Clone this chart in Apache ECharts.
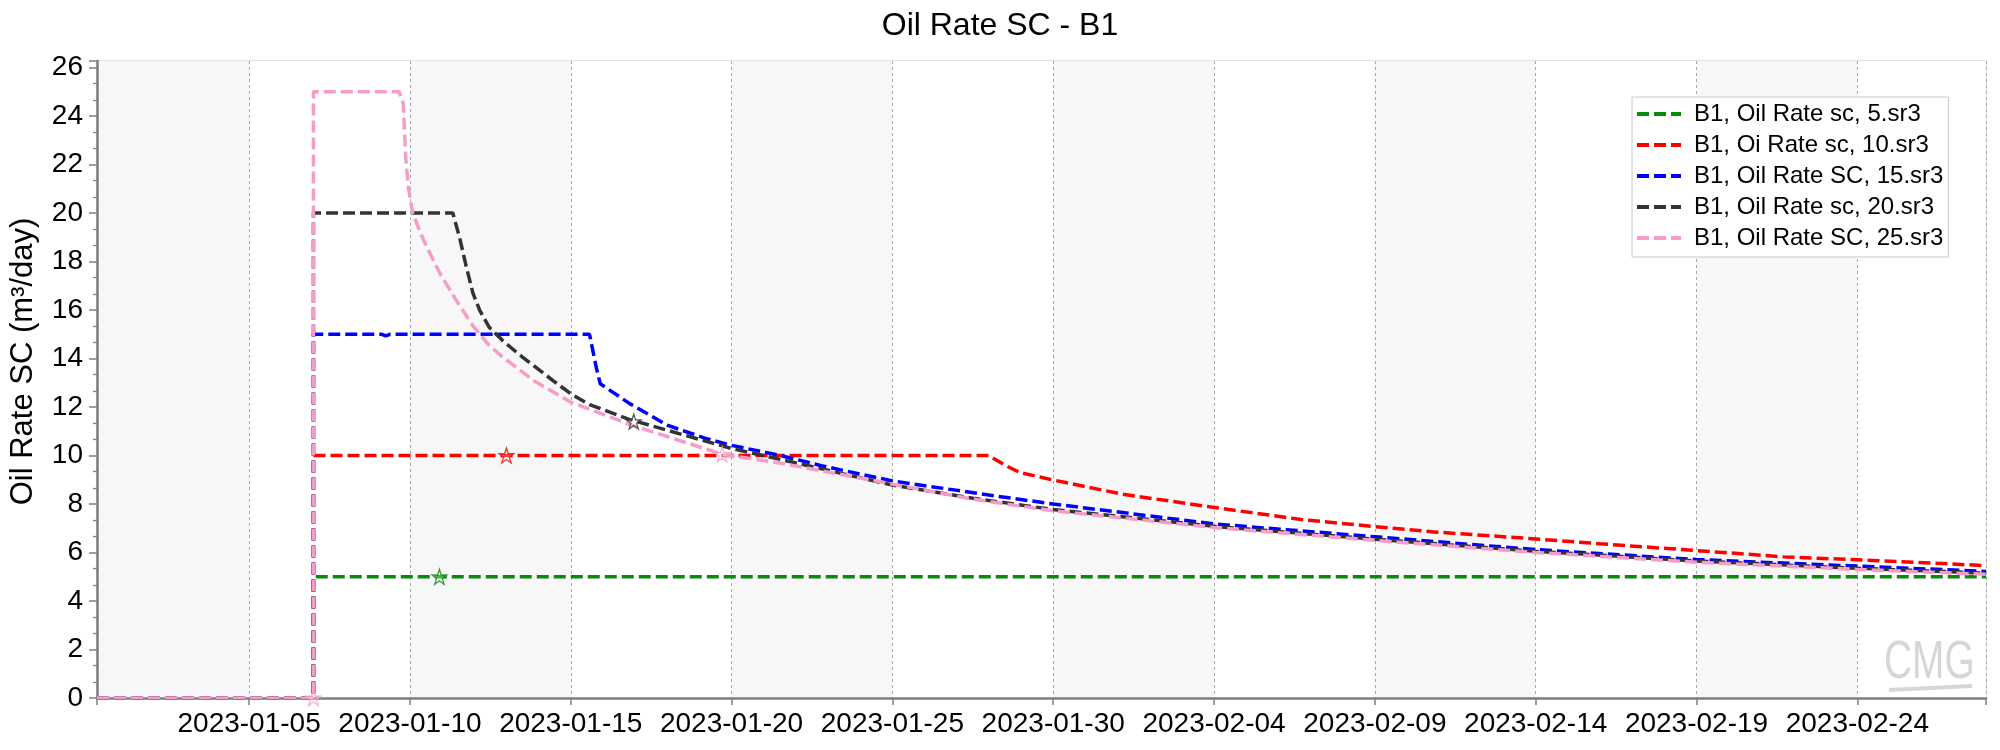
<!DOCTYPE html>
<html>
<head>
<meta charset="utf-8">
<script src="https://cdn.jsdelivr.net/npm/echarts@6/dist/echarts.min.js"></script>
<style>
html,body{margin:0;padding:0;background:#ffffff;}
#chart{width:2000px;height:750px;}
</style>
</head>
<body>
<div id="chart"></div>
<script>
// ---------------- DATA ----------------
const xTickLabels = ['2023-01-05','2023-01-10','2023-01-15','2023-01-20','2023-01-25','2023-01-30',
                     '2023-02-04','2023-02-09','2023-02-14','2023-02-19','2023-02-24'];
const xAxisStart = '2022-12-31 06:30';
const xAxisEnd = '2023-02-28 00:00';

const seriesNames = ['B1, Oil Rate sc, 5.sr3','B1, Oi Rate sc, 10.sr3','B1, Oil Rate SC, 15.sr3',
                     'B1, Oil Rate sc, 20.sr3','B1, Oil Rate SC, 25.sr3'];

const rate5Dates  = ['2022-12-31 06:30','2023-01-07 00:00','2023-01-07 00:00','2023-02-28 00:00'];
const rate5Values = [0, 0, 5, 5];

const rate10Dates  = ['2022-12-31 06:30','2023-01-07 00:00','2023-01-07 00:00','2023-01-28 00:00','2023-01-28 12:00',
                      '2023-01-28 23:00','2023-01-30 00:00','2023-02-01 04:00','2023-02-04 00:00','2023-02-06 17:00',
                      '2023-02-09 00:00','2023-02-10 22:00','2023-02-14 00:00','2023-02-16 00:00','2023-02-19 00:00',
                      '2023-02-21 17:00','2023-02-24 00:00','2023-02-28 00:00'];
const rate10Values = [0, 0, 10, 10, 9.6, 9.3, 8.99, 8.4, 7.86, 7.36, 7.07, 6.84, 6.56, 6.36, 6.08, 5.82, 5.7, 5.46];

const rate15Dates  = ['2022-12-31 06:30','2023-01-07 00:00','2023-01-07 00:00','2023-01-09 03:00','2023-01-09 06:00',
                      '2023-01-09 09:00','2023-01-15 14:00','2023-01-15 19:00','2023-01-15 22:00','2023-01-16 20:00',
                      '2023-01-18 00:00','2023-01-19 05:00','2023-01-20 00:00','2023-01-21 14:00','2023-01-22 19:00',
                      '2023-01-25 00:00','2023-01-28 00:00','2023-01-30 00:00','2023-02-04 00:00','2023-02-09 00:00',
                      '2023-02-14 00:00','2023-02-19 00:00','2023-02-24 00:00','2023-02-28 00:00'];
const rate15Values = [0, 0, 15, 15, 14.93, 15, 15, 13.64, 12.96, 12.14, 11.25, 10.7, 10.42, 9.98, 9.58,
                      8.95, 8.37, 8.0, 7.18, 6.65, 6.12, 5.71, 5.44, 5.22];

const rate20Dates  = ['2022-12-31 06:30','2023-01-07 00:00','2023-01-07 00:00','2023-01-11 08:00','2023-01-11 13:00',
                      '2023-01-11 18:00','2023-01-11 23:00','2023-01-12 04:00','2023-01-12 11:00','2023-01-12 21:00',
                      '2023-01-13 06:00','2023-01-13 12:00','2023-01-14 11:00','2023-01-15 00:00','2023-01-15 14:00',
                      '2023-01-16 19:00','2023-01-18 00:00','2023-01-20 00:00','2023-01-21 14:00','2023-01-25 00:00',
                      '2023-01-27 12:00','2023-01-30 00:00','2023-02-04 00:00','2023-02-09 00:00','2023-02-14 00:00',
                      '2023-02-19 00:00','2023-02-24 00:00','2023-02-28 00:00'];
const rate20Values = [0, 0, 20, 20, 19.0, 17.8, 16.7, 16.0, 15.3, 14.75, 14.33, 14.06, 13.08, 12.55, 12.1,
                      11.5, 11.04, 10.29, 9.82, 8.78, 8.24, 7.77, 7.08, 6.55, 6.05, 5.65, 5.35, 5.15];

const rate25Dates  = ['2022-12-31 06:30','2023-01-07 00:00','2023-01-07 00:00','2023-01-09 16:00','2023-01-09 19:00',
                      '2023-01-09 21:00','2023-01-09 23:00','2023-01-10 02:00','2023-01-10 10:00','2023-01-10 22:00',
                      '2023-01-11 10:00','2023-01-11 23:00','2023-01-12 11:00','2023-01-12 21:00','2023-01-13 20:00',
                      '2023-01-15 00:00','2023-01-16 19:00','2023-01-19 17:00','2023-01-21 14:00','2023-01-25 00:00',
                      '2023-01-27 12:00','2023-01-30 00:00','2023-02-04 00:00','2023-02-09 00:00','2023-02-14 00:00',
                      '2023-02-19 00:00','2023-02-24 00:00','2023-02-28 00:00'];
const rate25Values = [0, 0, 25, 25, 24.5, 22.2, 21.0, 20.0, 18.9, 17.55, 16.45, 15.35, 14.55, 14.07, 13.1,
                      12.2, 11.3, 10.05, 9.67, 8.82, 8.2, 7.72, 7.03, 6.5, 6.0, 5.6, 5.3, 5.1];

// star markers (one per series where visible)
const starDates  = ['2023-01-10 22:00','2023-01-13 00:00','2023-01-16 23:00','2023-01-19 17:00','2023-01-07 00:00'];
const starValues = [5, 10, 11.4, 10.05, 0];
const starSeries = [0, 1, 3, 4, 4];

// ---------------- STYLE ----------------
const colors = ['#0a8a0a', '#ff0000', '#0000ff', '#333333', '#f79cc8'];
const FONT = '"Liberation Sans", Arial, sans-serif';

function ts(s) { return Date.parse(s.replace(' ', 'T') + ':00Z'); }
function pairs(d, v) { return d.map((x, i) => [ts(x), v[i]]); }
function fmtDate(v) { return new Date(v).toISOString().slice(0, 10); }

const xMin = ts(xAxisStart), xMax = ts(xAxisEnd);
const xTicks = xTickLabels.map(s => ts(s + ' 00:00'));

const allDates = [rate5Dates, rate10Dates, rate15Dates, rate20Dates, rate25Dates];
const allValues = [rate5Values, rate10Values, rate15Values, rate20Values, rate25Values];

const lineSeries = seriesNames.map((name, i) => ({
  name: name,
  type: 'line',
  data: pairs(allDates[i], allValues[i]),
  symbol: 'none',
  showSymbol: false,
  lineStyle: { color: colors[i], width: 3.5, type: [12, 5] },
  itemStyle: { color: colors[i] },
  z: 10 + i,
  animation: false
}));

const starPath = 'path://M50,2 L61.8,37.6 L99,37.6 L68.9,59.5 L80.4,95 L50,73 L19.6,95 L31.1,59.5 L1,37.6 L38.2,37.6 Z';
const starSeriesObj = {
  name: 'stars',
  type: 'scatter',
  symbol: starPath,
  symbolSize: 15,
  z: 30,
  data: starDates.map((d, i) => ({
    value: [ts(d), starValues[i]],
    itemStyle: { color: 'rgba(255,255,255,0.35)', borderColor: colors[starSeries[i]], borderWidth: 1.3 }
  })),
  animation: false
};

const chart = echarts.init(document.getElementById('chart'), null, { renderer: 'canvas' });
chart.setOption({
  animation: false,
  backgroundColor: '#ffffff',
  title: {
    text: 'Oil Rate SC - B1',
    left: 'center',
    top: 5,
    textStyle: { fontFamily: FONT, fontSize: 32, fontWeight: 'normal', color: '#000' }
  },
  legend: {
    data: seriesNames,
    orient: 'vertical',
    left: 1632,
    top: 97,
    padding: [5, 5, 7, 3],
    itemWidth: 44,
    itemHeight: 14,
    itemGap: 7,
    backgroundColor: '#ffffff',
    borderColor: '#c8c8c8',
    borderWidth: 1,
    borderRadius: 0,
    itemStyle: { opacity: 0 },
    lineStyle: { width: 4 },
    textStyle: { fontFamily: FONT, fontSize: 24, color: '#000', padding: [0, 0, 0, 8] }
  },
  grid: {
    left: 97, right: 14, top: 61, bottom: 52,
    show: true, borderColor: '#c4c4c4', borderWidth: 1, backgroundColor: 'transparent',
    containLabel: false, outerBoundsMode: 'none'
  },
  xAxis: {
    type: 'value',
    min: xMin,
    max: xMax,
    axisLine: { show: true, onZero: false, lineStyle: { color: '#7f7f7f', width: 2.5 } },
    axisTick: { show: true, length: 7, customValues: [xMin].concat(xTicks, [xMax]),
                lineStyle: { color: '#7f7f7f', width: 1.5 } },
    axisLabel: { customValues: xTicks, formatter: v => fmtDate(v), margin: 12,
                 fontFamily: FONT, fontSize: 28, color: '#000' },
    splitLine: { show: true, lineStyle: { color: '#a8a8a8', width: 1, type: [3, 3] } },
    splitArea: { show: true, areaStyle: { color: ['#f7f7f7', '#ffffff'] } }
  },
  yAxis: {
    type: 'value',
    min: 0,
    max: 26.27,
    interval: 2,
    name: 'Oil Rate SC (m³/day)',
    nameLocation: 'middle',
    nameGap: 58,
    nameTextStyle: { fontFamily: FONT, fontSize: 31, color: '#000', padding: [0, 0, 0, 36] },
    axisLine: { show: true, lineStyle: { color: '#7f7f7f', width: 2.5 } },
    axisTick: { show: true, length: 8, lineStyle: { color: '#7f7f7f', width: 1.5 } },
    minorTick: { show: true, splitNumber: 3, length: 4, lineStyle: { color: '#7f7f7f', width: 1.2 } },
    axisLabel: {
      margin: 14, fontFamily: FONT, fontSize: 28, color: '#000',
      formatter: v => (Math.abs(v % 2) < 1e-6 ? String(v) : '')
    },
    splitLine: { show: true, lineStyle: { color: '#a8a8a8', width: 1, type: [3, 3] } }
  },
  graphic: [
    { type: 'text', x: 1884, y: 636, scaleX: 0.72, z: 1,
      style: { text: 'CMG', font: 'normal 54px "Liberation Sans", Arial', fill: '#d6d6d6' } },
    { type: 'line', z: 1, shape: { x1: 1889, y1: 690, x2: 1972, y2: 686 },
      style: { stroke: '#d6d6d6', lineWidth: 4 } }
  ],
  series: lineSeries.concat([starSeriesObj])
});
</script>
</body>
</html>
